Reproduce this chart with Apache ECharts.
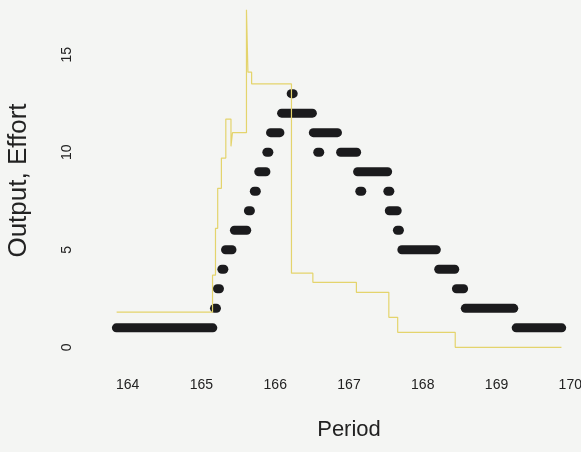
<!DOCTYPE html>
<html>
<head>
<meta charset="utf-8">
<script src="https://cdn.jsdelivr.net/npm/echarts@6/dist/echarts.min.js"></script>
<style>
    html, body { margin: 0; padding: 0; background: #f4f5f3; }
    #main { width: 581px; height: 452px; }
</style>
</head>
<body>
<div id="main"></div>
<script>
// Output (black dots): each run is a stretch of observations at one level
var runStart = [163.86, 165.19, 165.23, 165.29, 165.34, 165.46, 165.65, 165.73, 165.79, 165.90, 165.95, 166.10, 166.23,
    166.53, 166.59, 166.90, 167.13, 167.16, 167.54, 167.56, 167.67, 167.73, 168.23, 168.47, 168.59, 169.28];
var runEnd = [165.14, 165.19, 165.23, 165.29, 165.40, 165.60, 165.65, 165.73, 165.86, 165.90, 166.05, 166.49, 166.23,
    166.83, 166.59, 167.09, 167.51, 167.16, 167.54, 167.64, 167.67, 168.17, 168.42, 168.54, 169.22, 169.87];
var runValue = [1, 2, 3, 4, 5, 6, 7, 8, 9, 10, 11, 12, 13,
    11, 10, 10, 9, 8, 8, 7, 6, 5, 4, 3, 2, 1];

// Effort (yellow step line): period where a level starts, and the level
var effortPeriod = [163.85, 165.15, 165.19, 165.22, 165.27, 165.33, 165.40, 165.42, 165.61, 165.63, 165.68,
    166.22, 166.51, 167.10, 167.54, 167.66, 168.44, 169.88];
var effortValue = [1.8, 3.7, 6.1, 8.15, 9.7, 11.7, 10.3, 11.0, 17.3, 14.1, 13.5,
    3.8, 3.33, 2.82, 1.54, 0.77, 0, 0];

var xTicks = [164, 165, 166, 167, 168, 169, 170];
var yTicks = [0, 5, 10, 15];

var runData = [];
for (var i = 0; i < runValue.length; i++) {
    runData.push([runStart[i], runEnd[i], runValue[i]]);
}
var effortData = [];
for (var j = 0; j < effortValue.length; j++) {
    effortData.push([effortPeriod[j], effortValue[j]]);
}

var myChart = echarts.init(document.getElementById('main'));
var fontName = 'Liberation Sans, Arial, sans-serif';
var option = {
    backgroundColor: '#f4f5f3',
    animation: false,
    grid: {
        left: 110,
        top: 0,
        width: 478,
        height: 361,
        outerBoundsMode: 'none'
    },
    xAxis: {
        type: 'value',
        min: 163.76,
        max: 170.24,
        name: 'Period',
        nameLocation: 'middle',
        nameGap: 58,
        nameTextStyle: { fontFamily: fontName, fontSize: 22, color: '#222' },
        axisLine: { show: false },
        axisTick: { show: false },
        splitLine: { show: false },
        axisLabel: {
            customValues: xTicks,
            margin: 17,
            fontFamily: fontName,
            fontSize: 14,
            color: '#222'
        }
    },
    yAxis: {
        type: 'value',
        min: -0.7,
        max: 17.8,
        name: 'Output, Effort',
        nameLocation: 'middle',
        nameRotate: 90,
        nameGap: 78,
        nameTextStyle: { fontFamily: fontName, fontSize: 26, color: '#222' },
        axisLine: { show: false },
        axisTick: { show: false },
        splitLine: { show: false },
        axisLabel: {
            customValues: yTicks,
            rotate: 90,
            margin: 36,
            fontFamily: fontName,
            fontSize: 14,
            color: '#222'
        }
    },
    series: [
        {
            name: 'Output',
            type: 'custom',
            data: runData,
            encode: { x: [0, 1], y: 2 },
            z: 2,
            renderItem: function (params, api) {
                var s = api.coord([api.value(0), api.value(2)]);
                var e = api.coord([api.value(1), api.value(2)]);
                return {
                    type: 'rect',
                    shape: { x: s[0] - 5.5, y: s[1] - 4.5, width: e[0] - s[0] + 11, height: 9, r: 4.5 },
                    style: { fill: '#1b1b1d' }
                };
            }
        },
        {
            name: 'Effort',
            type: 'line',
            step: 'end',
            data: effortData,
            symbol: 'none',
            z: 3,
            lineStyle: { color: '#e4d46c', width: 1.2 }
        }
    ]
};
myChart.setOption(option);
</script>
</body>
</html>
